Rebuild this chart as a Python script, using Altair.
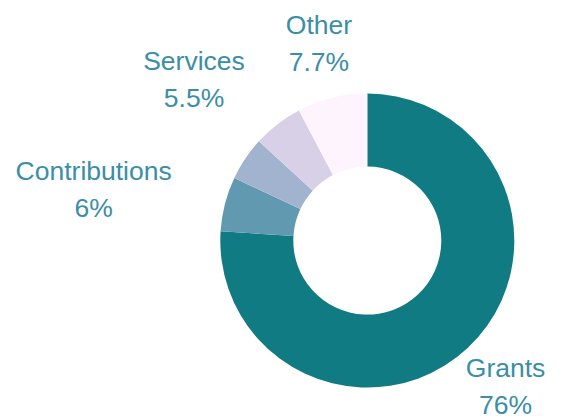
import altair as alt
import pandas as pd

names = ["Grants", "Contributions", "Investments", "Services", "Other"]
values = [76, 6, 4.8, 5.5, 7.7]
colors = ["#117b84", "#6199b1", "#a2b3cf", "#d7d0e7", "#fdf4fd"]
shown = [True, True, False, True, True]

df = pd.DataFrame({
    "name": names,
    "value": values,
    "order": list(range(len(names))),
    "shown": shown,
})

cx, cy = 359.3, 232.6

base = alt.Chart(df).encode(
    theta=alt.Theta("value:Q", stack=True),
    order=alt.Order("order:Q"),
    x=alt.value(cx),
    y=alt.value(cy),
)

arcs = base.mark_arc(outerRadius=147, innerRadius=74).encode(
    color=alt.Color("name:N", scale=alt.Scale(domain=names, range=colors), legend=None)
)

def label_layer(which, dx):
    cond = " || ".join(f"datum.name == '{w}'" for w in which)
    return base.transform_calculate(
        t=f"({cond}) && datum.shown ? datum.name + '\\n' + datum.value + '%' : ''"
    ).mark_text(
        radius=202, dx=dx, dy=-18.5, align="center", baseline="middle",
        font="Liberation Sans", fontSize=26.5, lineHeight=37,
        color="#3b8ea5", lineBreak="\n",
    ).encode(text="t:N")

chart = alt.layer(
    arcs,
    label_layer(["Grants", "Other"], 0),
    label_layer(["Contributions"], -78),
    label_layer(["Services"], -50),
).properties(
    width=545, height=409, padding=0,
    autosize=alt.AutoSizeParams(type="none"),
).configure_view(stroke=None)

chart.save("out.html", embed_options={"renderer": "svg", "actions": False})
